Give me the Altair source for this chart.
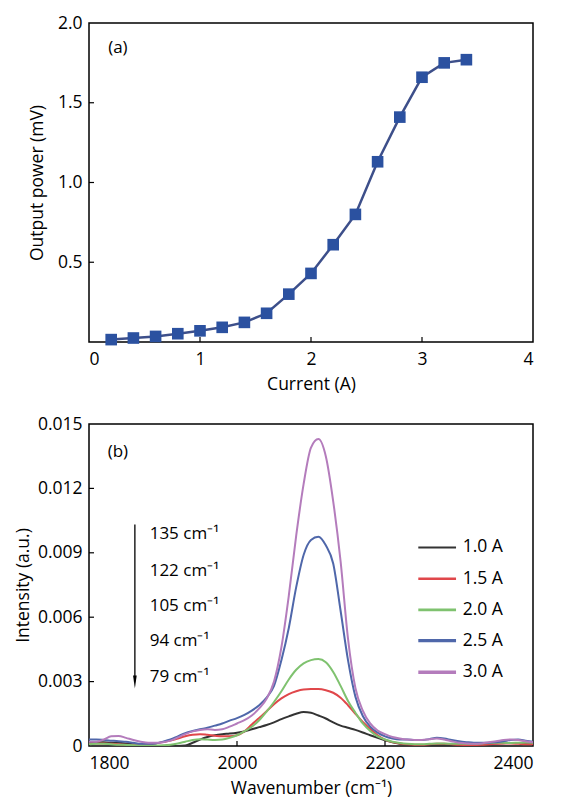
import altair as alt
import pandas as pd

FONT = "Open Sans"

# ---------------- panel (a) data ----------------
current = [0.2, 0.4, 0.6, 0.8, 1.0, 1.2, 1.4, 1.6, 1.8, 2.0, 2.2, 2.4, 2.6, 2.8, 3.0, 3.2, 3.4]
power = [0.015, 0.025, 0.035, 0.052, 0.07, 0.092, 0.123, 0.18, 0.30, 0.43, 0.61, 0.80,
         1.13, 1.41, 1.66, 1.75, 1.77]
top_x_labels = [0, 1, 2, 3, 4]
top_y_labels = [0.5, 1.0, 1.5, 2.0]
top_x_inticks = [1, 2, 3]
top_y_inticks = [0.5, 1.0, 1.5]

# ---------------- panel (b) data (intensity in units of 1e-3) ----------------
wavenumber = list(range(1800, 2401, 10))
i_10A = [0.18, 0.18, 0.17, 0.15, 0.15, 0.12, 0.08, 0.04, 0.01, 0.0,
         0.0, 0.0, 0.0, 0.02, 0.15, 0.3, 0.42, 0.5, 0.55, 0.58,
         0.62, 0.68, 0.78, 0.88, 0.98, 1.1, 1.25, 1.38, 1.5, 1.58,
         1.55, 1.42, 1.28, 1.1, 0.95, 0.85, 0.75, 0.63, 0.5, 0.38,
         0.27, 0.17, 0.1, 0.06, 0.04, 0.03, 0.03, 0.04, 0.05, 0.06,
         0.07, 0.08, 0.09, 0.1, 0.1, 0.12, 0.13, 0.14, 0.14, 0.13, 0.12]
i_15A = [0.1, 0.12, 0.12, 0.1, 0.08, 0.06, 0.05, 0.05, 0.08, 0.12,
         0.18, 0.25, 0.35, 0.45, 0.52, 0.55, 0.52, 0.48, 0.45, 0.45,
         0.5, 0.68, 1.0, 1.3, 1.62, 1.95, 2.22, 2.42, 2.55, 2.63,
         2.65, 2.65, 2.6, 2.48, 2.25, 1.9, 1.5, 1.12, 0.8, 0.5,
         0.3, 0.18, 0.12, 0.08, 0.06, 0.06, 0.08, 0.1, 0.1, 0.08,
         0.06, 0.05, 0.05, 0.06, 0.08, 0.1, 0.12, 0.12, 0.1, 0.08, 0.08]
i_20A = [0.08, 0.1, 0.1, 0.08, 0.06, 0.05, 0.04, 0.03, 0.02, 0.02,
         0.03, 0.06, 0.12, 0.2, 0.28, 0.32, 0.3, 0.28, 0.3, 0.38,
         0.5, 0.68, 0.9, 1.2, 1.6, 2.05, 2.55, 3.1, 3.55, 3.85,
         4.0, 4.05, 3.9, 3.45, 2.8, 2.1, 1.55, 1.05, 0.7, 0.45,
         0.3, 0.2, 0.14, 0.1, 0.08, 0.08, 0.1, 0.12, 0.12, 0.1,
         0.1, 0.1, 0.1, 0.12, 0.14, 0.15, 0.15, 0.14, 0.15, 0.16, 0.15]
i_25A = [0.3, 0.3, 0.28, 0.25, 0.22, 0.2, 0.15, 0.1, 0.1, 0.12,
         0.2, 0.3, 0.45, 0.6, 0.7, 0.78, 0.85, 0.95, 1.05, 1.18,
         1.3, 1.45, 1.65, 1.9, 2.25, 2.8, 4.0, 5.5, 7.4, 8.9,
         9.6, 9.75, 9.35, 8.5, 6.3, 4.0, 2.3, 1.4, 0.9, 0.62,
         0.45, 0.35, 0.3, 0.3, 0.28, 0.28, 0.32, 0.38, 0.35, 0.28,
         0.22, 0.18, 0.15, 0.15, 0.15, 0.18, 0.22, 0.28, 0.3, 0.25, 0.2]
i_30A = [0.2, 0.2, 0.3, 0.45, 0.47, 0.38, 0.28, 0.2, 0.15, 0.15,
         0.18, 0.25, 0.4, 0.55, 0.68, 0.75, 0.78, 0.75, 0.78, 0.9,
         1.05, 1.2, 1.42, 1.75, 2.2, 3.0, 4.6, 7.0, 9.8, 12.2,
         13.9, 14.3, 13.5, 11.4, 8.6, 5.0, 2.7, 1.65, 1.05, 0.72,
         0.55, 0.42, 0.35, 0.3, 0.28, 0.28, 0.32, 0.35, 0.3, 0.22,
         0.15, 0.12, 0.1, 0.12, 0.18, 0.22, 0.28, 0.3, 0.28, 0.22, 0.18]
series_names = ["1.0 A", "1.5 A", "2.0 A", "2.5 A", "3.0 A"]
series_colors = ["#333333", "#e0474a", "#7fc26f", "#4f67aa", "#b47cbc"]
legend_widths = [2, 3.5, 3.5, 3.5, 3.5]
bot_x_labels = [1800, 2000, 2200, 2400]
bot_y_labels = [0, 0.003, 0.006, 0.009, 0.012, 0.015]
bot_x_inticks = [2000, 2200]
bot_y_inticks = [0.003, 0.006, 0.009, 0.012]

# legend rows (drawn inside panel b, data coordinates)
legend_y = [0.00925, 0.00779, 0.00634, 0.00491, 0.00344]
legend_x1, legend_x2, legend_tx = 2245, 2296, 2305

# annotation
annot_text = ["135 cm⁻¹", "122 cm⁻¹", "105 cm⁻¹", "94 cm⁻¹", "79 cm⁻¹"]
annot_y = [0.00988, 0.00817, 0.00654, 0.00491, 0.00320]
annot_x = 1882
arrow_x = 1862
arrow_top = 0.01032
arrow_head_y = 0.00298
arrow_line_end = 0.0031

W = 444
H_TOP = 319
H_BOT = 322
TICK = 5

# ---------------- panel (a) ----------------
df_top = pd.DataFrame({"current": current, "power": power})
xs_top = alt.Scale(domain=[0, 4], nice=False, zero=False)
ys_top = alt.Scale(domain=[0, 2], nice=False)

x_top = alt.X("current:Q", scale=xs_top,
              axis=alt.Axis(values=top_x_labels, format="d", title="Current (A)",
                            ticks=False, domain=False, grid=False,
                            labelPadding=8, titlePadding=8))
y_top = alt.Y("power:Q", scale=ys_top,
              axis=alt.Axis(values=top_y_labels, format=".1f", title="Output power (mV)",
                            ticks=False, domain=False, grid=False,
                            labelPadding=7, titlePadding=11))

line_a = alt.Chart(df_top).mark_line(color="#3d4f8a", strokeWidth=2.5).encode(x=x_top, y=y_top)
pts_a = alt.Chart(df_top).mark_square(size=135, color="#2b51a0", opacity=1).encode(
    x="current:Q", y="power:Q")
tx_a = alt.Chart(pd.DataFrame({"current": top_x_inticks})).mark_rule(
    color="black", strokeWidth=1.2).encode(
    x="current:Q", y=alt.value(H_TOP), y2=alt.value(H_TOP - TICK))
ty_a = alt.Chart(pd.DataFrame({"power": top_y_inticks})).mark_rule(
    color="black", strokeWidth=1.2).encode(
    y="power:Q", x=alt.value(0), x2=alt.value(TICK))
lab_a = alt.Chart(pd.DataFrame({"current": [0.26], "power": [1.845], "t": ["(a)"]})).mark_text(
    font=FONT, fontSize=17, align="center", baseline="middle", color="black").encode(
    x="current:Q", y="power:Q", text="t:N")

panel_a = alt.layer(line_a, pts_a, tx_a, ty_a, lab_a).properties(width=W, height=H_TOP)

# ---------------- panel (b) ----------------
series_vals = [i_10A, i_15A, i_20A, i_25A, i_30A]
rows = []
for name, vals in zip(series_names, series_vals):
    for w, v in zip(wavenumber, vals):
        rows.append({"wn": w, "intensity": v / 1000.0, "series": name})
df_bot = pd.DataFrame(rows)

xs_bot = alt.Scale(domain=[1800, 2400], nice=False, zero=False)
ys_bot = alt.Scale(domain=[0, 0.015], nice=False)
color_scale = alt.Scale(domain=series_names, range=series_colors)

x_bot = alt.X("wn:Q", scale=xs_bot,
              axis=alt.Axis(values=bot_x_labels, format="d", title="Wavenumber (cm⁻¹)",
                            ticks=False, domain=False, grid=False,
                            labelPadding=8, titlePadding=8))
y_bot = alt.Y("intensity:Q", scale=ys_bot,
              axis=alt.Axis(values=bot_y_labels,
                            labelExpr="datum.value == 0 ? '0' : format(datum.value, '.3f')",
                            title="Intensity (a.u.)",
                            ticks=False, domain=False, grid=False,
                            labelPadding=7, titlePadding=5))

lines_b = alt.Chart(df_bot).mark_line(strokeWidth=2, interpolate="monotone", clip=True).encode(
    x=x_bot, y=y_bot,
    color=alt.Color("series:N", scale=color_scale, legend=None),
    detail="series:N",
    order=alt.Order("wn:Q"))

df_leg = pd.DataFrame({"series": series_names, "wn": [legend_x1] * 5, "wn2": [legend_x2] * 5,
                       "intensity": legend_y, "tx": [legend_tx] * 5})
leg_lines = alt.Chart(df_leg).mark_rule().encode(
    x="wn:Q", x2="wn2:Q", y="intensity:Q",
    color=alt.Color("series:N", scale=color_scale, legend=None),
    strokeWidth=alt.StrokeWidth("series:N",
                                scale=alt.Scale(domain=series_names, range=legend_widths),
                                legend=None))
leg_text = alt.Chart(df_leg).mark_text(font=FONT, fontSize=17.5, align="left",
                                       baseline="middle", color="black").encode(
    x="tx:Q", y="intensity:Q", text="series:N")

tx_b = alt.Chart(pd.DataFrame({"wn": bot_x_inticks})).mark_rule(
    color="black", strokeWidth=1.2).encode(
    x="wn:Q", y=alt.value(H_BOT), y2=alt.value(H_BOT - TICK))
ty_b = alt.Chart(pd.DataFrame({"intensity": bot_y_inticks})).mark_rule(
    color="black", strokeWidth=1.2).encode(
    y="intensity:Q", x=alt.value(0), x2=alt.value(TICK))
df_ann = pd.DataFrame({"wn": [annot_x] * len(annot_text), "intensity": annot_y, "t": annot_text})
ann_b = alt.Chart(df_ann).mark_text(font=FONT, fontSize=17, align="left",
                                    baseline="middle", color="black").encode(
    x="wn:Q", y="intensity:Q", text="t:N")
arrow_line = alt.Chart(pd.DataFrame({"wn": [arrow_x], "intensity": [arrow_top],
                                     "y2": [arrow_line_end]})).mark_rule(
    color="black", strokeWidth=1.3).encode(x="wn:Q", y="intensity:Q", y2="y2:Q")
arrow_head = alt.Chart(pd.DataFrame({"wn": [arrow_x], "intensity": [arrow_head_y]})).mark_point(
    shape="M-0.28,-1L0.28,-1L0,1Z", filled=True, size=169, color="black", opacity=1,
    strokeWidth=0).encode(x="wn:Q", y="intensity:Q")
lab_b = alt.Chart(pd.DataFrame({"wn": [1839], "intensity": [0.0137], "t": ["(b)"]})).mark_text(
    font=FONT, fontSize=17, align="center", baseline="middle", color="black").encode(
    x="wn:Q", y="intensity:Q", text="t:N")

panel_b = alt.layer(lines_b, leg_lines, leg_text, tx_b, ty_b, ann_b, arrow_line, arrow_head,
                    lab_b).properties(width=W, height=H_BOT)

chart = alt.vconcat(panel_a, panel_b, spacing=20).properties(
    padding={"left": 5, "top": 5, "right": 0, "bottom": 0},
    background="white"
).configure_view(stroke="black", strokeWidth=1.5).configure_axis(
    labelFont=FONT, labelFontSize=17.5, labelColor="black",
    titleFont=FONT, titleFontSize=17.5, titleFontWeight="normal", titleColor="black"
)

chart.save("out.html", embed_options={"renderer": "svg", "actions": False})
